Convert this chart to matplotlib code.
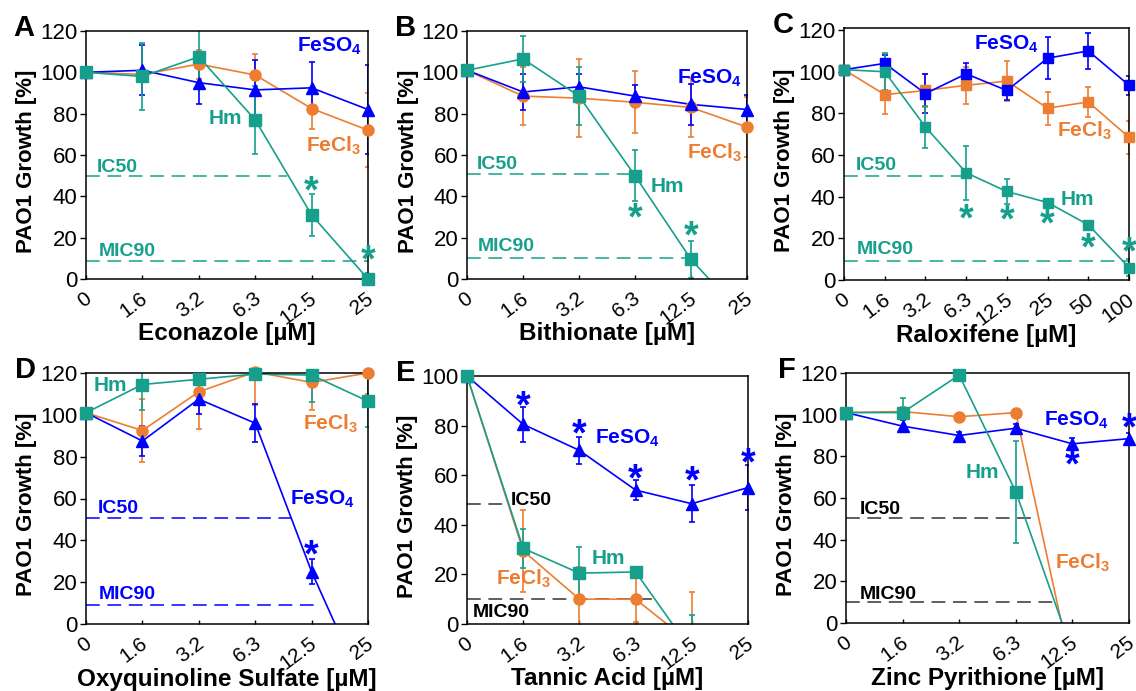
import numpy as np
import matplotlib

matplotlib.use('Agg')

from matplotlib import pyplot as plt
import matplotlib.transforms as mtransforms

plt.rcParams['font.family'] = ['Liberation Sans', 'DejaVu Sans']
plt.rcParams['mathtext.fontset'] = 'custom'
plt.rcParams['mathtext.rm'] = 'Liberation Sans'
plt.rcParams['mathtext.bf'] = 'Liberation Sans:bold'

BLUE = '#0000ff'
TEAL = '#16a08c'
ORANGE = '#ed7d31'
W, H = 1136, 691

##### Data #####
conc6 = ['0', '1.6', '3.2', '6.3', '12.5', '25']
conc8 = ['0', '1.6', '3.2', '6.3', '12.5', '25', '50', '100']

# A - Econazole
a_feso4 = [100, 101, 95, 91.5, 92.5, 82]
a_feso4_err = [0, 12, 10.5, 14.5, 12.5, 21.5]
a_fecl3 = [100, 99, 104, 98.7, 82.5, 72]
a_fecl3_err = [0, 2, 7, 10, 10, 18]
a_hm = [100, 98, 107.5, 77, 31, 0]
a_hm_err = [0, 16, 14, 16.5, 10, 3]

# B - Bithionate
b_feso4 = [101, 90.5, 93, 88.5, 84.5, 82]
b_feso4_err = [0, 8.5, 6, 5.5, 10, 7]
b_fecl3 = [101, 88.5, 87.5, 85.5, 83, 73.5]
b_fecl3_err = [0, 14, 19, 15, 14.5, 14.5]
b_hm = [101, 106.5, 88.5, 50, 9.5, -20]
b_hm_err = [0, 11, 14, 12.5, 9, 0]

# C - Raloxifene
c_feso4 = [101, 104, 89.5, 99, 91, 106.5, 110, 93.5]
c_feso4_err = [0, 4, 9.5, 5, 4.5, 10, 8.5, 4.5]
c_fecl3 = [101, 89, 91, 93.5, 95.5, 82.5, 85.5, 68.5]
c_fecl3_err = [0, 9.5, 8, 9, 9.5, 8, 7, 8]
c_hm = [101, 100, 73.5, 51.5, 42.5, 37.2, 26.5, 6]
c_hm_err = [0, 9, 10, 13, 6, 1, 1, 4]

# D - Oxyquinoline Sulfate
d_feso4 = [101, 87.5, 107.5, 96, 25, -35]
d_feso4_err = [0, 7, 7, 9, 6, 0]
d_fecl3 = [101, 92.5, 111, 120.5, 115.5, 120]
d_fecl3_err = [0, 15, 18, 16, 13, 10]
d_hm = [101, 114.5, 117, 119.5, 119, 106.5]
d_hm_err = [0, 12, 5, 3, 13, 12.5]

# E - Tannic Acid
e_feso4 = [100, 80.5, 70, 54, 48.5, 55]
e_feso4_err = [0, 7, 5.5, 4, 7.5, 9]
e_fecl3 = [100, 29.5, 10, 10, -8, -30]
e_fecl3_err = [0, 16.5, 13, 9, 21, 0]
e_hm = [100, 30.5, 20.5, 21, -11, -40]
e_hm_err = [0, 8, 10.5, 2, 14.5, 0]

# F - Zinc Pyrithione
f_feso4 = [101, 94.5, 90, 93.5, 86, 88.5]
f_feso4_err = [0, 3, 1.5, 2, 3, 2.5]
f_fecl3 = [101, 101.5, 99, 101, -24, -100]
f_fecl3_err = [0, 2, 1, 1.5, 0, 0]
f_hm = [101, 101, 119, 63, -14, -100]
f_hm_err = [0, 7, 2, 24.5, 0, 0]

fig = plt.figure(figsize=(W / 100, H / 100), dpi=100)


def make_axes(l, t, r, b):
    return fig.add_axes([l / W, 1 - b / H, (r - l) / W, (b - t) / H])


def series(ax, y, err, color, marker, ms=8):
    y = np.array(y, float)
    err = np.array(err, float)
    x = np.arange(len(y))
    ax.plot(x, y, color=color, lw=1.2, zorder=2)
    e = err > 0
    ax.errorbar(x[e], y[e], yerr=err[e], fmt='none', ecolor=color,
                elinewidth=1.2, capsize=2.5, capthick=1.2, zorder=2)
    ok = y >= -0.5
    ax.plot(x[ok], y[ok], ls='none', marker=marker, ms=ms, color=color,
            mec=color, clip_on=False, zorder=3)


def setup(ax, letter, lx, xlabel, ticks, ymax, ystep=20):
    n = len(ticks)
    ax.set_xlim(0, n - 1)
    ax.set_ylim(0, ymax)
    ax.set_xticks(range(n))
    ax.set_yticks(np.arange(0, ymax + 1, ystep))
    ax.tick_params(axis='y', direction='out', length=4, width=1, labelsize=16, pad=2)
    ax.tick_params(axis='x', direction='in', length=3, width=1, pad=7)
    ax.set_xticklabels(ticks, rotation=37, ha='right', va='top', fontsize=15)
    # shift rotated labels so they sit under their ticks
    off = mtransforms.ScaledTranslation(0.09, 0, fig.dpi_scale_trans)
    for lab in ax.get_xticklabels():
        lab.set_transform(lab.get_transform() + off)
    for s in ax.spines.values():
        s.set_linewidth(1.1)
    ax.set_xlabel(xlabel, fontsize=17.5, fontweight='bold')
    ax.set_ylabel('PAO1 Growth [%]', fontsize=16, fontweight='bold')
    ax.xaxis.set_label_coords(0.5, -0.22)
    ax.xaxis.label.set_va('center')
    ax.yaxis.set_label_coords(-0.21, 0.475)
    ax.yaxis.label.set_va('center')
    bb = ax.get_position()
    fig.text(lx / W, bb.y1 - 5 / H, letter, fontsize=21, fontweight='bold',
             va='baseline', ha='left')


def label(ax, x, y, s, color, size=15):
    ax.text(x, y, s, color=color, fontsize=size, fontweight='bold', va='baseline', ha='left')


def star(ax, x, y, color):
    ax.text(x, y, '*', color=color, fontsize=27, fontweight='bold', ha='center', va='center')


def hline(ax, y, x1, color):
    ax.plot([0, x1], [y, y], color=color, lw=1.1, dashes=(9, 5), zorder=1)


FESO4 = r'FeSO$_\mathbf{4}$'
FECL3 = r'FeCl$_\mathbf{3}$'

##### A #####
ax = make_axes(86, 31, 368, 279)
series(ax, a_fecl3, a_fecl3_err, ORANGE, 'o')
series(ax, a_feso4, a_feso4_err, BLUE, '^')
series(ax, a_hm, a_hm_err, TEAL, 's')
hline(ax, 50, 3.56, TEAL)
hline(ax, 8.5, 5, TEAL)
label(ax, 0.19, 52, 'IC50', TEAL, 14)
label(ax, 0.22, 11, 'MIC90', TEAL, 14)
label(ax, 3.74, 110, FESO4, BLUE)
label(ax, 2.17, 75, 'Hm', TEAL)
label(ax, 3.9, 61.5, FECL3, ORANGE)
star(ax, 4, 42, TEAL)
star(ax, 5, 8.5, TEAL)
setup(ax, 'A', 13, 'Econazole [µM]', conc6, 120)

##### B #####
ax = make_axes(467, 31, 747, 279)
series(ax, b_fecl3, b_fecl3_err, ORANGE, 'o')
series(ax, b_feso4, b_feso4_err, BLUE, '^')
series(ax, b_hm, b_hm_err, TEAL, 's')
hline(ax, 51, 3, TEAL)
hline(ax, 10, 4, TEAL)
label(ax, 0.17, 53, 'IC50', TEAL, 14)
label(ax, 0.2, 13.5, 'MIC90', TEAL, 14)
label(ax, 3.75, 94.5, FESO4, BLUE)
label(ax, 3.28, 42, 'Hm', TEAL)
label(ax, 3.93, 58.5, FECL3, ORANGE)
star(ax, 3, 29, TEAL)
star(ax, 4, 20, TEAL)
setup(ax, 'B', 395, 'Bithionate [µM]', conc6, 120)

##### C #####
ax = make_axes(844, 28, 1129, 280)
series(ax, c_fecl3, c_fecl3_err, ORANGE, 's', 7)
series(ax, c_feso4, c_feso4_err, BLUE, 's', 7)
series(ax, c_hm, c_hm_err, TEAL, 's', 6.5)
hline(ax, 50, 2.93, TEAL)
hline(ax, 9, 7, TEAL)
label(ax, 0.29, 53, 'IC50', TEAL, 14)
label(ax, 0.32, 12.5, 'MIC90', TEAL, 14)
label(ax, 3.19, 110.5, FESO4, BLUE)
label(ax, 5.22, 68.8, FECL3, ORANGE)
label(ax, 5.32, 36, 'Hm', TEAL)
for xi, yi in zip([3, 4, 5, 6, 7], [28.5, 28, 26, 14.5, 12.5]):
    star(ax, xi, yi, TEAL)
setup(ax, 'C', 773, 'Raloxifene [µM]', conc8, 121)

##### D #####
ax = make_axes(86, 373, 368, 624)
series(ax, d_fecl3, d_fecl3_err, ORANGE, 'o')
series(ax, d_feso4, d_feso4_err, BLUE, '^')
series(ax, d_hm, d_hm_err, TEAL, 's')
hline(ax, 50.5, 3.66, BLUE)
hline(ax, 9, 4.15, BLUE)
label(ax, 0.2, 53, 'IC50', BLUE, 14)
label(ax, 0.23, 12, 'MIC90', BLUE, 14)
label(ax, 0.13, 111.5, 'Hm', TEAL)
label(ax, 3.85, 93, FECL3, ORANGE)
label(ax, 3.62, 57, FESO4, BLUE)
star(ax, 4, 32.5, BLUE)
setup(ax, 'D', 15, 'Oxyquinoline Sulfate [µM]', conc6, 120)

##### E #####
ax = make_axes(467, 376, 748, 624)
series(ax, e_fecl3, e_fecl3_err, ORANGE, 'o')
series(ax, e_feso4, e_feso4_err, BLUE, '^')
series(ax, e_hm, e_hm_err, TEAL, 's')
hline(ax, 48.5, 0.65, '#333333')
hline(ax, 10, 3.4, '#333333')
label(ax, 0.78, 48, 'IC50', 'black', 14)
label(ax, 0.1, 3, 'MIC90', 'black', 14)
label(ax, 2.27, 73, FESO4, BLUE)
label(ax, 2.22, 24, 'Hm', TEAL)
label(ax, 0.52, 16, FECL3, ORANGE)
for xi, yi in zip([1, 2, 3, 4, 5], [87.5, 76, 58, 57, 64.5]):
    star(ax, xi, yi, BLUE)
setup(ax, 'E', 396, 'Tannic Acid [µM]', conc6, 100)

##### F #####
ax = make_axes(846, 373, 1129, 623)
series(ax, f_fecl3, f_fecl3_err, ORANGE, 'o')
series(ax, f_feso4, f_feso4_err, BLUE, '^')
series(ax, f_hm, f_hm_err, TEAL, 's')
hline(ax, 50.5, 3.37, '#333333')
hline(ax, 10, 3.73, '#333333')
label(ax, 0.25, 52.5, 'IC50', 'black', 14)
label(ax, 0.25, 11.5, 'MIC90', 'black', 14)
label(ax, 3.49, 95, FESO4, BLUE)
label(ax, 2.12, 69.5, 'Hm', TEAL)
label(ax, 3.69, 26, FECL3, ORANGE)
star(ax, 4, 75, BLUE)
star(ax, 5, 93, BLUE)
setup(ax, 'F', 778, 'Zinc Pyrithione [µM]', conc6, 120)

plt.savefig('out.png', dpi=100)
